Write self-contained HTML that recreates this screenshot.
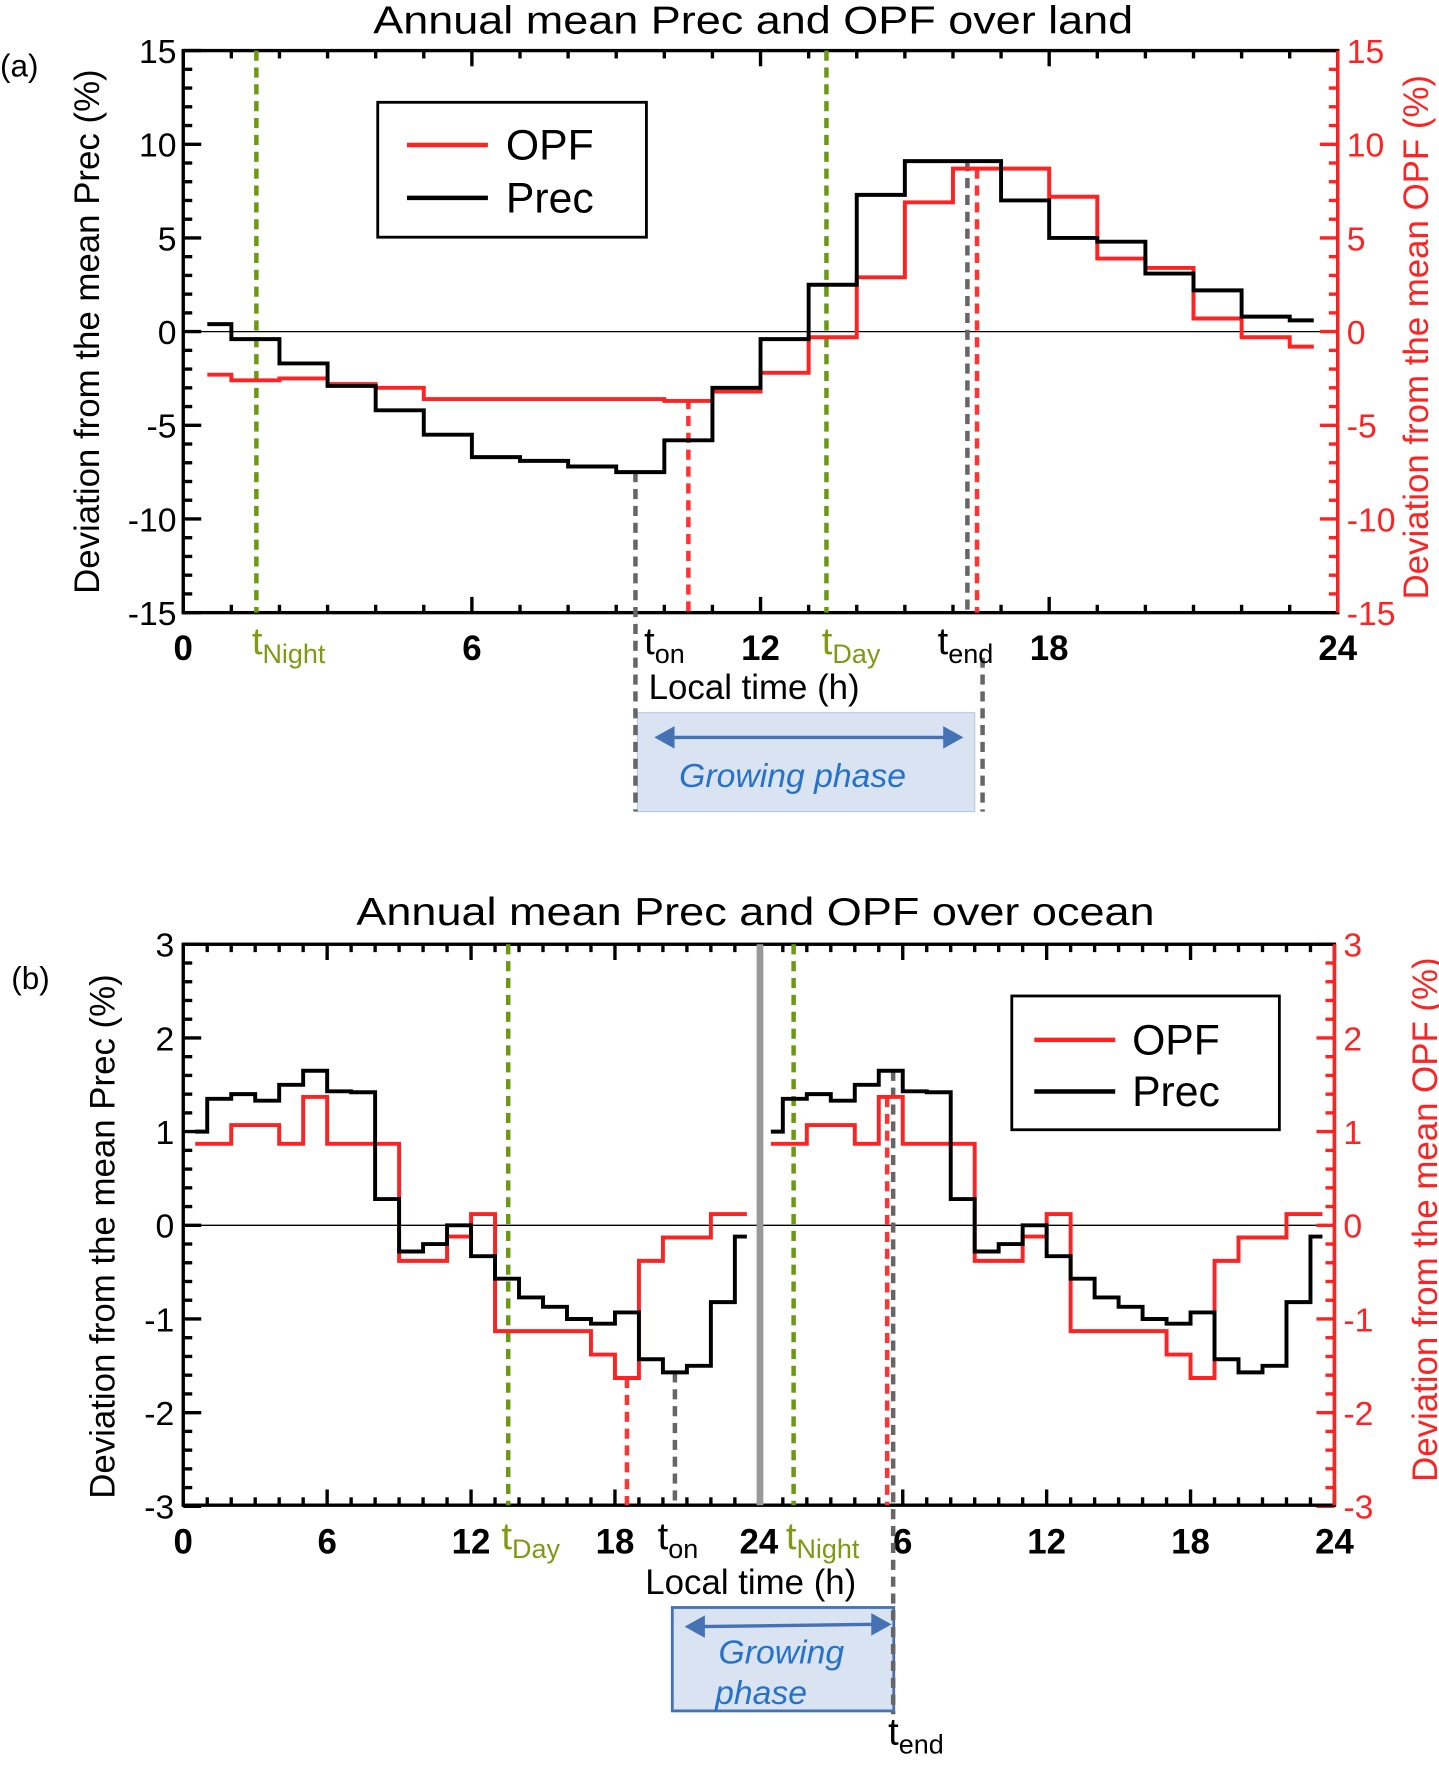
<!DOCTYPE html>
<html><head><meta charset="utf-8"><style>
html,body{margin:0;padding:0;background:#fff;}
svg{display:block;font-family:"Liberation Sans",sans-serif;}
</style></head><body>
<svg id="fig" width="1439" height="1766" viewBox="0 0 1280 1571" preserveAspectRatio="none" xmlns="http://www.w3.org/2000/svg">
<rect width="1280" height="1571" fill="#fff"/>
<g id="pa"></g>
<g id="pb"></g>
</svg>
<script>
// Panel (a) land: hourly bins centred at 0.5..23.5
const landHours = [0.5,1.5,2.5,3.5,4.5,5.5,6.5,7.5,8.5,9.5,10.5,11.5,12.5,13.5,14.5,15.5,16.5,17.5,18.5,19.5,20.5,21.5,22.5,23.5];
const landPrec = [0.4,-0.4,-1.7,-2.9,-4.2,-5.5,-6.7,-6.9,-7.2,-7.5,-5.8,-3.0,-0.4,2.5,7.3,9.1,9.1,7.0,5.0,4.8,3.1,2.2,0.8,0.6];
const landOPF = [-2.3,-2.6,-2.5,-2.8,-3.0,-3.6,-3.6,-3.6,-3.6,-3.6,-3.7,-3.2,-2.2,-0.3,2.9,6.9,8.7,8.7,7.2,3.9,3.4,0.7,-0.3,-0.8];
const landYTicks = [-15,-10,-5,0,5,10,15];
const landXTicks = [0,6,12,18,24];
// Panel (b) ocean
const oceanPrec = [1.0,1.35,1.4,1.33,1.5,1.65,1.43,1.42,0.28,-0.28,-0.2,0.0,-0.33,-0.57,-0.77,-0.87,-1.0,-1.05,-0.93,-1.43,-1.57,-1.5,-0.82,-0.12];
const oceanOPF = [0.87,0.87,1.07,1.07,0.87,1.37,0.87,0.87,0.87,-0.38,-0.38,-0.12,0.12,-1.13,-1.13,-1.13,-1.13,-1.38,-1.63,-0.38,-0.13,-0.13,0.12,0.12];
const oceanYTicks = [-3,-2,-1,0,1,2,3];
const oceanXTicks = [0,6,12,18,24,30,36,42,48];
const oceanXLabels = ["0","6","12","18","24","6","12","18","24"];

const NS="http://www.w3.org/2000/svg";
function el(parent,tag,attrs,text){const e=document.createElementNS(NS,tag);for(const k in attrs)e.setAttribute(k,attrs[k]);if(text!==undefined)e.textContent=text;parent.appendChild(e);return e;}

function stepPath(vals,hours,off,X,Y){
  let d="M"+X(hours[0]+off)+","+Y(vals[0]);
  for(let i=1;i<vals.length;i++){const xb=X(hours[i]-0.5+off);d+=" H"+xb+" V"+Y(vals[i]);}
  d+=" H"+X(hours[hours.length-1]+off);
  return d;
}

// ---------- Panel a ----------
(function(){
const g=document.getElementById('pa');
const L=163,R=1190,T=45,B=545;
const X=h=>L+(R-L)*h/24, Y=v=>295-(v/15)*250;
let t=el(g,'text',{x:670,y:30,'font-size':35,'text-anchor':'middle',textLength:676,lengthAdjust:'spacingAndGlyphs'},'Annual mean Prec and OPF over land');

t=el(g,'text',{x:0,y:68,'font-size':28},'(a)');
// zero line
el(g,'line',{x1:L,x2:R,y1:Y(0),y2:Y(0),stroke:'#000','stroke-width':1.2});
// ticks
for(let h=0;h<=24;h++){const maj=h%6==0;const len=maj?14:7;
 el(g,'line',{x1:X(h),x2:X(h),y1:B,y2:B-len,stroke:'#000','stroke-width':3});
 el(g,'line',{x1:X(h),x2:X(h),y1:T,y2:T+len,stroke:'#000','stroke-width':3});}
for(let v=-15;v<=15;v++){const maj=v%5==0;const len=maj?16:8;
 el(g,'line',{x1:L,x2:L+len,y1:Y(v),y2:Y(v),stroke:'#000','stroke-width':3});
 el(g,'line',{x1:R,x2:R-len,y1:Y(v),y2:Y(v),stroke:'#f22','stroke-width':3});}
el(g,'rect',{x:L,y:T,width:R-L,height:B-T,fill:'none',stroke:'#000','stroke-width':3});
el(g,'line',{x1:R,x2:R,y1:T,y2:B,stroke:'#f22','stroke-width':3});
landYTicks.forEach(v=>{
 const a=el(g,'text',{x:L-6,y:Y(v)+11,'font-size':30,'text-anchor':'end'},String(v));
 const b=el(g,'text',{x:R+8,y:Y(v)+11,'font-size':30,fill:'#f22'},String(v));});
landXTicks.forEach(h=>{const a=el(g,'text',{x:X(h),y:587,'font-size':31,'font-weight':'bold','text-anchor':'middle'},String(h));});
let yt=el(g,'text',{x:0,y:0,'font-size':31,'text-anchor':'middle',transform:'translate(88,295) rotate(-90)'},'Deviation from the mean Prec (%)');

yt=el(g,'text',{x:0,y:0,'font-size':31,'text-anchor':'middle',fill:'#f22',transform:'translate(1270,300) rotate(-90)'},'Deviation from the mean OPF (%)');

// growing box
let gb=el(g,'rect',{x:567,y:634,width:300,height:88,fill:'#d9e3f1',stroke:'#b8c9e0','stroke-width':1});

el(g,'line',{x1:596,x2:842,y1:656,y2:656,stroke:'#4472b4','stroke-width':3});
el(g,'polygon',{points:'582,656 600,646 600,666',fill:'#4472b4'});
el(g,'polygon',{points:'857,656 839,646 839,666',fill:'#4472b4'});
el(g,'text',{x:705,y:700,'font-size':30,'font-style':'italic',fill:'#2672c9','text-anchor':'middle'},'Growing phase');
// dashed markers
const dash=(x,y1,y2,c,n)=>{const l=el(g,'line',{x1:x,x2:x,y1:y1,y2:y2,stroke:c,'stroke-width':4,'stroke-dasharray':'9,6'});};
dash(X(1.52),T,B,'#6b9a12','t-night-line');
dash(X(13.37),T,B,'#6b9a12','t-day-line');
dash(X(9.4),Y(-7.5),722,'#666','t-on-line');
dash(X(10.5),Y(-3.6),B,'#f33','opf-onset-line');
dash(X(16.3),Y(9.1),B,'#666','t-end-line');
dash(X(16.5),Y(8.7),B,'#f33','opf-end-line');
dash(874,585,722,'#666','t-end-extension');
// series
let p=el(g,'path',{d:stepPath(landOPF,landHours,0,X,Y),fill:'none',stroke:'#f22','stroke-width':3.5});
p=el(g,'path',{d:stepPath(landPrec,landHours,0,X,Y),fill:'none',stroke:'#000','stroke-width':3.5});
// x labels
const sub=(x,y,main,s,c,n)=>{const tx=el(g,'text',{x:x,y:y,'font-size':34,fill:c});el(tx,'tspan',{},main);el(tx,'tspan',{'font-size':24,dy:8},s);};
sub(224,582,'t','Night','#7f9a12','t-night-label');
sub(573,582,'t','on','#000','t-on-label');
sub(731,582,'t','Day','#7f9a12','t-day-label');
sub(834,582,'t','end','#000','t-end-label');
let xt=el(g,'text',{x:577,y:622,'font-size':31},'Local time (h)');
// legend
let lg=el(g,'g',{});
el(lg,'rect',{x:336,y:91,width:239,height:120,fill:'#fff',stroke:'#000','stroke-width':2.5});
el(lg,'line',{x1:362,x2:434,y1:129,y2:129,stroke:'#f22','stroke-width':4});
el(lg,'text',{x:450,y:142,'font-size':38},'OPF');
el(lg,'line',{x1:362,x2:434,y1:176,y2:176,stroke:'#000','stroke-width':4});
el(lg,'text',{x:450,y:189,'font-size':38},'Prec');
})();

// ---------- Panel b ----------
(function(){
const g=document.getElementById('pb');
const L=163,R=1187,T=840,B=1339;
const X=h=>L+(R-L)*h/48, Y=v=>1090-(v/3)*250;
let t=el(g,'text',{x:672,y:823,'font-size':35,'text-anchor':'middle',textLength:710,lengthAdjust:'spacingAndGlyphs'},'Annual mean Prec and OPF over ocean');

t=el(g,'text',{x:10,y:880,'font-size':28},'(b)');
el(g,'line',{x1:L,x2:R,y1:Y(0),y2:Y(0),stroke:'#000','stroke-width':1.2});
for(let h=0;h<=48;h++){const maj=h%6==0;const len=maj?14:7;
 el(g,'line',{x1:X(h),x2:X(h),y1:B,y2:B-len,stroke:'#000','stroke-width':3});
 el(g,'line',{x1:X(h),x2:X(h),y1:T,y2:T+len,stroke:'#000','stroke-width':3});}
for(let k=-15;k<=15;k++){const v=k/5;const maj=k%5==0;const len=maj?16:8;
 el(g,'line',{x1:L,x2:L+len,y1:Y(v),y2:Y(v),stroke:'#000','stroke-width':3});
 el(g,'line',{x1:R,x2:R-len,y1:Y(v),y2:Y(v),stroke:'#f22','stroke-width':3});}
el(g,'rect',{x:L,y:T,width:R-L,height:B-T,fill:'none',stroke:'#000','stroke-width':3});
el(g,'line',{x1:R,x2:R,y1:T,y2:B,stroke:'#f22','stroke-width':3});
oceanYTicks.forEach(v=>{
 const a=el(g,'text',{x:L-8,y:Y(v)+11,'font-size':30,'text-anchor':'end'},String(v));
 const b=el(g,'text',{x:R+8,y:Y(v)+11,'font-size':30,fill:'#f22'},String(v));});
oceanXTicks.forEach((h,i)=>{const a=el(g,'text',{x:X(h),y:1382,'font-size':31,'font-weight':'bold','text-anchor':'middle'},oceanXLabels[i]);});
let yt=el(g,'text',{x:0,y:0,'font-size':31,'text-anchor':'middle',transform:'translate(102,1100) rotate(-90)'},'Deviation from the mean Prec (%)');

yt=el(g,'text',{x:0,y:0,'font-size':31,'text-anchor':'middle',fill:'#f22',transform:'translate(1278,1085) rotate(-90)'},'Deviation from the mean OPF (%)');

// growing box
let gb=el(g,'rect',{x:598,y:1430,width:197,height:92,fill:'#d9e3f1',stroke:'#4472b4','stroke-width':2.5});

el(g,'line',{x1:624,x2:778,y1:1447,y2:1445,stroke:'#4472b4','stroke-width':3});
el(g,'polygon',{points:'609,1447 627,1437 627,1457',fill:'#4472b4'});
el(g,'polygon',{points:'793,1445 775,1435 775,1455',fill:'#4472b4'});
el(g,'text',{x:695,y:1480,'font-size':30,'font-style':'italic',fill:'#2672c9','text-anchor':'middle'},'Growing');
el(g,'text',{x:677,y:1516,'font-size':30,'font-style':'italic',fill:'#2672c9','text-anchor':'middle'},'phase');
const dash=(x,y1,y2,c,n)=>{const l=el(g,'line',{x1:x,x2:x,y1:y1,y2:y2,stroke:c,'stroke-width':4,'stroke-dasharray':'9,6'});};
dash(X(13.55),T,B,'#6b9a12','t-day-line');
dash(X(25.45),T,B,'#6b9a12','t-night-line');
dash(X(18.5),Y(-1.63),B,'#f33','opf-onset-line');
dash(X(20.5),Y(-1.57),B,'#666','t-on-line');
dash(X(29.35),Y(1.37),B,'#f33','opf-end-line');
dash(X(29.6),Y(1.65),1525,'#666','t-end-line');
let gl=el(g,'line',{x1:676,x2:676,y1:T,y2:B,stroke:'#999','stroke-width':6});
const hrs=[];for(let i=0;i<24;i++)hrs.push(i+0.5);
[0,24].forEach(off=>{
 let p=el(g,'path',{d:stepPath(oceanOPF,hrs,off,X,Y),fill:'none',stroke:'#f22','stroke-width':3.5});
 p=el(g,'path',{d:stepPath(oceanPrec,hrs,off,X,Y),fill:'none',stroke:'#000','stroke-width':3.5});});
const sub=(x,y,main,s,c,n)=>{const tx=el(g,'text',{x:x,y:y,'font-size':34,fill:c});el(tx,'tspan',{},main);el(tx,'tspan',{'font-size':24,dy:8},s);};
sub(446,1378,'t','Day','#7f9a12','t-day-label');
sub(585,1378,'t','on','#000','t-on-label');
sub(699,1378,'t','Night','#7f9a12','t-night-label');
sub(790,1552,'t','end','#000','t-end-label');
let xt=el(g,'text',{x:574,y:1418,'font-size':31},'Local time (h)');
let lg=el(g,'g',{});
el(lg,'rect',{x:900,y:886,width:238,height:119,fill:'#fff',stroke:'#000','stroke-width':2.5});
el(lg,'line',{x1:920,x2:992,y1:925,y2:925,stroke:'#f22','stroke-width':4});
el(lg,'text',{x:1007,y:938,'font-size':38},'OPF');
el(lg,'line',{x1:920,x2:992,y1:971,y2:971,stroke:'#000','stroke-width':4});
el(lg,'text',{x:1007,y:984,'font-size':38},'Prec');
})();
</script>
</body></html>
